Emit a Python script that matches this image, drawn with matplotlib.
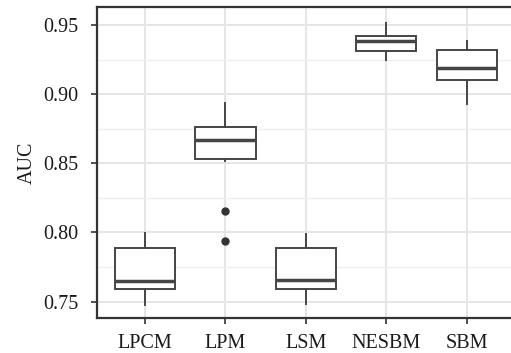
import matplotlib.pyplot as plt

# Boxplot summary values
models = ['LPCM', 'LPM', 'LSM', 'NESBM', 'SBM']
whisker_low = [0.7475, 0.8517, 0.7480, 0.9250, 0.8926]
q1 = [0.7588, 0.8529, 0.7588, 0.9313, 0.9105]
median = [0.7650, 0.8667, 0.7656, 0.9386, 0.9191]
q3 = [0.7887, 0.8766, 0.7887, 0.9420, 0.9318]
whisker_high = [0.7995, 0.8938, 0.7990, 0.9517, 0.9387]
outliers = [[], [0.8152, 0.7940], [], [], []]

y_ticks = [0.75, 0.80, 0.85, 0.90, 0.95]

plt.rcParams['font.family'] = ['Liberation Serif', 'DejaVu Serif']

stats = []
for i, name in enumerate(models):
    stats.append({
        'label': name,
        'whislo': whisker_low[i],
        'q1': q1[i],
        'med': median[i],
        'q3': q3[i],
        'whishi': whisker_high[i],
        'fliers': outliers[i],
    })

fig = plt.figure(figsize=(5.11, 3.53), dpi=100)
ax = fig.add_axes([0.189, 0.100, 0.819, 0.879])

box_col = '#454545'
ax.bxp(stats, positions=range(1, 6), widths=0.75, patch_artist=True,
       boxprops=dict(facecolor='white', edgecolor=box_col, linewidth=1.4),
       medianprops=dict(color=box_col, linewidth=2.5),
       whiskerprops=dict(color=box_col, linewidth=1.4),
       capprops=dict(linewidth=0),
       flierprops=dict(marker='o', markerfacecolor='#333333', markeredgecolor='#333333',
                       markersize=5),
       zorder=3)

ax.set_xlim(0.4, 5.6)
ax.set_ylim(0.7383, 0.9628)
ax.set_yticks(y_ticks)
ax.set_yticklabels(['%.2f' % v for v in y_ticks])
ax.set_yticks([0.775, 0.825, 0.875, 0.925], minor=True)
ax.set_xticks(range(1, 6))
ax.set_xticklabels(models)

ax.grid(True, which='major', color='#e5e5e5', linewidth=1.4, zorder=0)
ax.grid(True, which='minor', axis='y', color='#efefef', linewidth=1.0, zorder=0)
ax.set_axisbelow(True)

for s in ax.spines.values():
    s.set_color('#333333')
    s.set_linewidth(1.6)

ax.tick_params(which='major', length=4, width=1.2, color='#333333',
               labelsize=14.5, labelcolor='#1a1a1a')
ax.tick_params(axis='y', pad=9)
ax.tick_params(axis='x', pad=8)
ax.tick_params(which='minor', length=0)
ax.set_ylabel('AUC', fontsize=14.5, color='#1a1a1a', labelpad=5)

fig.savefig('out.png', dpi=100)
